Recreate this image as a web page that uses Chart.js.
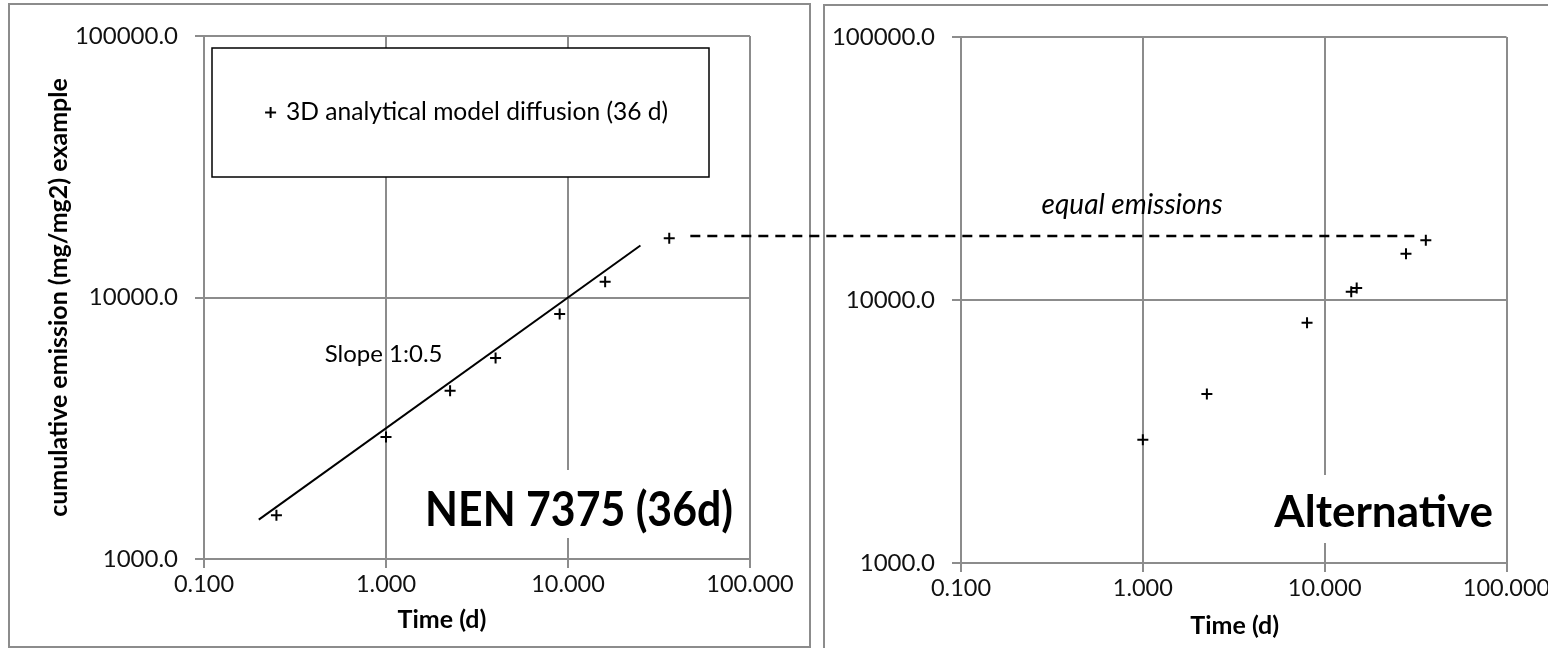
<!DOCTYPE html>
<html>
<head>
<meta charset="utf-8">
<title>Cumulative emission</title>
<script src="https://cdn.jsdelivr.net/npm/chart.js@4.4.1/dist/chart.umd.min.js"></script>
<style>
  html, body { margin: 0; padding: 0; background: #fff; overflow: hidden; }
  #page { position: relative; width: 1548px; height: 648px; overflow: hidden; }
  .frame { position: absolute; box-sizing: border-box; border: 2px solid #8c8c8c; }
  #frameLeft { left: 8px; top: 3px; width: 803px; height: 645px; }
  #frameRight { left: 823px; top: 4px; width: 760px; height: 660px; }
  canvas { position: absolute; top: 0; }
  #leftChart { left: 0; }
  #rightChart { left: 812px; }
  #connector { left: 0; pointer-events: none; }
</style>
</head>
<body>
<div id="page">
  <div class="frame" id="frameLeft"></div>
  <div class="frame" id="frameRight"></div>
  <canvas id="leftChart" width="812" height="648"></canvas>
  <canvas id="rightChart" width="760" height="648"></canvas>
  <canvas id="connector" width="1548" height="648"></canvas>
</div>
<script>
// NEN 7375 tank test, 36 d (times in d, cumulative emission in mg/m2)
const nenTimes = [0.25, 1, 2.25, 4, 9, 16, 36]
const nenEmission = [1470, 2930, 4400, 5870, 8650, 11500, 16850]

// slope 1:0.5 reference line
const slopeTimes = [0.2, 25]
const slopeEmission = [1414, 15811]

// alternative test schedule
const altTimes = [1, 2.25, 8, 14, 15, 28, 36]
const altEmission = [2945, 4390, 8200, 10750, 11100, 15000, 16870]

// equal emission level after 36 d, dashed from the left panel into the right one
const equalLevel = 17200
const equalSpan = [47, 32]

const timeTicks = [0.1, 1, 10, 100]
const emissionTicks = [1000, 10000, 100000]

const gridColor = '#8c8c8c'
const fontFamily = 'Lato, "Open Sans", sans-serif'

Chart.defaults.font.family = fontFamily
Chart.defaults.color = '#000'

const toPoints = (xs, ys) => xs.map((x, i) => ({ x, y: ys[i] }))

const markerStyle = {
  pointStyle: 'cross',
  pointRadius: 5.5,
  pointBorderWidth: 2,
  pointBorderColor: '#000',
  borderColor: '#000',
  showLine: false
}

// text boxes, captions and axis titles drawn on top of the plot
function notesPlugin (items) {
  return {
    id: 'notes',
    afterDraw (chart) {
      const { ctx, chartArea: area, scales } = chart
      ctx.save()
      for (const note of items) {
        let x, y
        if (note.at) {
          x = scales.x.getPixelForValue(note.at[0])
          y = scales.y.getPixelForValue(note.at[1])
        } else {
          x = area.left + area.width * note.rel + (note.dx || 0)
          y = area.bottom + (note.dy || 0)
        }
        const sx = note.stretch || 1
        ctx.font = note.font
        ctx.textAlign = note.align || 'center'
        ctx.textBaseline = note.baseline || 'middle'
        if (note.box) {
          const w = ctx.measureText(note.text).width * sx
          const left = ctx.textAlign === 'right' ? x - w : x - w / 2
          ctx.fillStyle = '#fff'
          ctx.fillRect(left - 8, y - note.box[0], w + 16, note.box[0] + note.box[1])
        }
        ctx.fillStyle = '#000'
        ctx.save()
        ctx.translate(x, y)
        ctx.scale(sx, 1)
        ctx.fillText(note.text, 0, 0)
        ctx.restore()
      }
      ctx.restore()
    }
  }
}

// framed legend sitting inside the plot area
const boxLegend = {
  id: 'boxLegend',
  afterDraw (chart, args, opts) {
    if (!opts.display) {
      return
    }
    const { ctx, chartArea: area } = chart
    const ds = chart.data.datasets[0]
    const x = area.left + opts.left
    const y = area.top + opts.top
    const cy = y + opts.height / 2

    ctx.save()
    ctx.fillStyle = '#fff'
    ctx.strokeStyle = '#000'
    ctx.lineWidth = 1.5
    ctx.fillRect(x, y, opts.width, opts.height)
    ctx.strokeRect(x, y, opts.width, opts.height)

    ctx.strokeStyle = ds.pointBorderColor
    ctx.lineWidth = ds.pointBorderWidth
    Chart.helpers.drawPoint(ctx, {
      pointStyle: ds.pointStyle,
      radius: ds.pointRadius,
      borderWidth: ds.pointBorderWidth,
      rotation: 0
    }, x + opts.markerX, cy)

    ctx.fillStyle = '#000'
    ctx.font = opts.font
    ctx.textAlign = 'left'
    ctx.textBaseline = 'middle'
    ctx.fillText(ds.label, x + opts.textX, cy)
    ctx.restore()
  }
}

function logScales (cfg) {
  return {
    x: {
      type: 'logarithmic',
      min: 0.1,
      max: 100,
      afterBuildTicks (scale) {
        scale.ticks = timeTicks.map(value => ({ value }))
      },
      afterFit (scale) {
        scale.height = cfg.xHeight
      },
      grid: { color: gridColor, lineWidth: 2, tickLength: 9 },
      border: { color: gridColor, width: 2 },
      ticks: {
        autoSkip: false,
        maxRotation: 0,
        padding: 2,
        color: '#111',
        font: { size: 23.5 },
        callback: value => Number(value).toFixed(3)
      }
    },
    y: {
      type: 'logarithmic',
      min: 1000,
      max: 100000,
      afterBuildTicks (scale) {
        scale.ticks = emissionTicks.map(value => ({ value }))
      },
      afterFit (scale) {
        scale.width = cfg.yWidth
      },
      grid: { color: gridColor, lineWidth: 2, tickLength: 9 },
      border: { color: gridColor, width: 2 },
      ticks: {
        autoSkip: false,
        padding: 17,
        color: '#111',
        font: { size: 24 },
        callback: value => Number(value).toFixed(1)
      },
      title: {
        display: !!cfg.yTitle,
        text: cfg.yTitle,
        font: { size: 25, weight: 'bold' },
        padding: { top: 4, bottom: 0 }
      }
    }
  }
}

const leftChart = new Chart(document.getElementById('leftChart'), {
  type: 'scatter',
  data: {
    datasets: [
      Object.assign({ label: '3D analytical model diffusion (36 d)', data: toPoints(nenTimes, nenEmission) }, markerStyle),
      {
        label: 'Slope 1:0.5',
        data: toPoints(slopeTimes, slopeEmission),
        showLine: true,
        pointRadius: 0,
        borderColor: '#000',
        borderWidth: 2
      }
    ]
  },
  options: {
    responsive: false,
    animation: false,
    events: [],
    layout: { padding: { left: 40, top: 36, right: 62, bottom: 0 } },
    scales: logScales({ xHeight: 89, yWidth: 164, yTitle: 'cumulative emission (mg/mg2) example' }),
    plugins: {
      legend: { display: false },
      tooltip: { enabled: false },
      boxLegend: {
        display: true,
        left: 8,
        top: 12,
        width: 497,
        height: 129,
        markerX: 58.6,
        textX: 74,
        font: '24.6px ' + fontFamily
      }
    }
  },
  plugins: [boxLegend, notesPlugin([
    { text: 'Slope 1:0.5', at: [0.97, 6040], font: '24px ' + fontFamily },
    { text: 'Time (d)', rel: 0.5, dx: -35, dy: 61, font: 'bold 25px ' + fontFamily },
    { text: 'NEN 7375 (36d)', rel: 1, dx: -17, dy: -33, align: 'right', baseline: 'alphabetic', box: [56, 12], stretch: 0.91, font: 'bold 47px ' + fontFamily }
  ])]
})

const rightChart = new Chart(document.getElementById('rightChart'), {
  type: 'scatter',
  data: {
    datasets: [
      Object.assign({ label: 'Alternative', data: toPoints(altTimes, altEmission) }, markerStyle)
    ]
  },
  options: {
    responsive: false,
    animation: false,
    events: [],
    layout: { padding: { left: 0, top: 37, right: 65.5, bottom: 0 } },
    scales: logScales({ xHeight: 85, yWidth: 149 }),
    plugins: {
      legend: { display: false },
      tooltip: { enabled: false }
    }
  },
  plugins: [notesPlugin([
    { text: 'equal emissions', at: [0.873, 23070], font: 'italic 28px ' + fontFamily },
    { text: 'Time (d)', rel: 0.5, dx: 1, dy: 63, font: 'bold 25px ' + fontFamily },
    { text: 'Alternative', rel: 1, dx: -13.5, dy: -36, align: 'right', baseline: 'alphabetic', box: [52, 16], font: 'bold 44px ' + fontFamily }
  ])]
})

// dashed connector between the 36 d results of both panels
function drawConnector () {
  const ctx = document.getElementById('connector').getContext('2d')
  const y = leftChart.scales.y.getPixelForValue(equalLevel)
  const x0 = leftChart.canvas.offsetLeft + leftChart.scales.x.getPixelForValue(equalSpan[0])
  const x1 = rightChart.canvas.offsetLeft + rightChart.scales.x.getPixelForValue(equalSpan[1])

  ctx.save()
  ctx.strokeStyle = '#000'
  ctx.lineWidth = 2.5
  ctx.setLineDash([10, 7])
  ctx.beginPath()
  ctx.moveTo(x0, y)
  ctx.lineTo(x1, y)
  ctx.stroke()
  ctx.restore()
}

drawConnector()
</script>
</body>
</html>
